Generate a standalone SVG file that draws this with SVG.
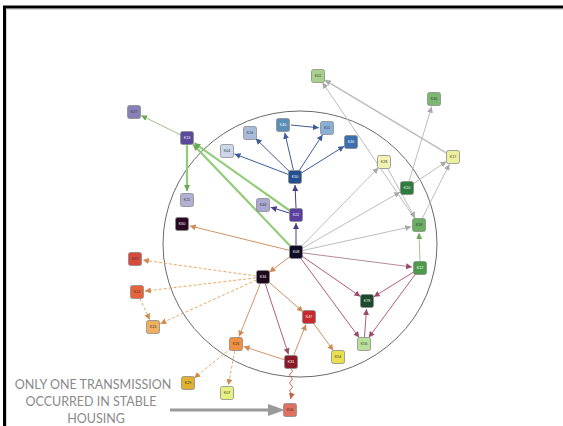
<svg xmlns="http://www.w3.org/2000/svg" width="563" height="426" viewBox="0 0 563 426">
<defs>
<style>
.n rect{stroke:#8a8a8a;stroke-width:0.8}
.n text{font-family:"Liberation Sans",Arial,sans-serif;font-size:3.6px;text-anchor:middle;fill:#333}
.n.d text{fill:#fff}
.e{fill:none;stroke-width:1}
.gy{stroke:#bdbdbd;marker-end:url(#mgy)}
.bl{stroke:#3c5c98;marker-end:url(#mbl)}
.gr{stroke:#92cc7a;stroke-width:2.2;marker-end:url(#mgr)}
.gt{stroke:#9fc48a;marker-end:url(#mgr)}
.pu{stroke:#4a3c8c;marker-end:url(#mpu)}
.or{stroke:#cf9366;marker-end:url(#mor)}
.ds{stroke:#eba866;stroke-dasharray:3 2;marker-end:url(#mor)}
.mv{stroke:#b25c7c;marker-end:url(#mmv)}
.rd{stroke:#d0704e;marker-end:url(#mrd)}
.lab{font-family:Lato,"Liberation Sans",sans-serif;font-size:12.5px;fill:#8a8a8a;text-anchor:middle}
</style>
<marker id="mgy" markerUnits="userSpaceOnUse" markerWidth="6" markerHeight="6" refX="6" refY="3" orient="auto"><path d="M0,0L6,3L0,6z" fill="#a8a8a8"/></marker>
<marker id="mbl" markerUnits="userSpaceOnUse" markerWidth="6" markerHeight="6" refX="6" refY="3" orient="auto"><path d="M0,0L6,3L0,6z" fill="#3c5c98"/></marker>
<marker id="mgr" markerUnits="userSpaceOnUse" markerWidth="6" markerHeight="6" refX="6" refY="3" orient="auto"><path d="M0,0L6,3L0,6z" fill="#6aa858"/></marker>
<marker id="mpu" markerUnits="userSpaceOnUse" markerWidth="6" markerHeight="6" refX="6" refY="3" orient="auto"><path d="M0,0L6,3L0,6z" fill="#4a3c8c"/></marker>
<marker id="mor" markerUnits="userSpaceOnUse" markerWidth="6" markerHeight="6" refX="6" refY="3" orient="auto"><path d="M0,0L6,3L0,6z" fill="#d08a50"/></marker>
<marker id="mmv" markerUnits="userSpaceOnUse" markerWidth="6" markerHeight="6" refX="6" refY="3" orient="auto"><path d="M0,0L6,3L0,6z" fill="#9a4a68"/></marker>
<marker id="mrd" markerUnits="userSpaceOnUse" markerWidth="6" markerHeight="6" refX="6" refY="3" orient="auto"><path d="M0,0L6,3L0,6z" fill="#c0604a"/></marker>
</defs>
<rect width="563" height="426" fill="#fff"/>
<path d="M6.5,426V9.5H563" fill="none" stroke="#d8d8d8" stroke-width="1"/>
<path d="M4.5,426V7H563" fill="none" stroke="#000" stroke-width="3"/>
<ellipse cx="300" cy="244" rx="137" ry="133" fill="none" stroke="#6a6a6a" stroke-width="1"/>

<g id="connectors">
<line class="e gt" x1="180.7" y1="134.9" x2="141.2" y2="115.5"/>
<line class="e gr" x1="187" y1="145" x2="187" y2="191"/>
<line class="e gr" x1="291.2" y1="246.9" x2="193.2" y2="144.5"/>
<line class="e gr" x1="290.3" y1="211" x2="194.4" y2="143.2"/>
<line class="e pu" x1="296" y1="208" x2="295" y2="185"/>
<line class="e pu" x1="296" y1="245" x2="296" y2="223"/>
<line class="e pu" x1="289.3" y1="213" x2="270.7" y2="207.3"/>
<line class="e bl" x1="288.5" y1="174.5" x2="234.5" y2="153.9"/>
<line class="e bl" x1="290" y1="172.1" x2="255.7" y2="138.6"/>
<line class="e bl" x1="293.4" y1="170.2" x2="284.8" y2="132.8"/>
<line class="e bl" x1="298.8" y1="171.1" x2="322.6" y2="134.7"/>
<line class="e bl" x1="300.9" y1="173.3" x2="344.2" y2="146.2"/>
<line class="e bl" x1="291" y1="125" x2="319" y2="127.8"/>
<line class="e or" x1="289.2" y1="250.3" x2="189.8" y2="225.9"/>
<line class="e or" x1="290.4" y1="256.2" x2="269.4" y2="272.2"/>
<line class="e ds" x1="256.1" y1="276" x2="142.9" y2="260.1"/>
<line class="e ds" x1="256" y1="277.8" x2="144.9" y2="291.1"/>
<line class="e ds" x1="256.6" y1="279.9" x2="160.3" y2="323.7"/>
<line class="e ds" x1="139.9" y1="298.4" x2="149.7" y2="319.7"/>
<line class="e or" x1="260.4" y1="283.5" x2="239" y2="336.6"/>
<line class="e mv" x1="265.2" y1="283.6" x2="288.5" y2="354.4"/>
<line class="e or" x1="268.3" y1="281.6" x2="303" y2="311.8"/>
<line class="e or" x1="284.4" y1="359.8" x2="243.6" y2="346.5"/>
<line class="e or" x1="293.6" y1="355.5" x2="306" y2="324.4"/>
<line class="e or" x1="313.1" y1="322.7" x2="333.3" y2="350.5"/>
<line class="e ds" x1="230.6" y1="348.4" x2="194.2" y2="378"/>
<line class="e ds" x1="234.7" y1="350.9" x2="228.4" y2="385.1"/>
<path class="e rd" d="M291,369 q3,2 0,4 q-3,2 0,4 q3,2 0,4 q-3,2 0,4 q3,2 0,4 q-3,2 0,4 q3,2 0,4 l-0.5,2"/>
<line class="e gy" x1="300.9" y1="247" x2="378.4" y2="167.7"/>
<line class="e gy" x1="302.1" y1="248.5" x2="400.1" y2="192"/>
<line class="e gy" x1="302.8" y1="250.5" x2="411.2" y2="226.7"/>
<line class="e mv" x1="302.9" y1="252.9" x2="412.1" y2="267" style="stroke:#b88a98"/>
<line class="e mv" x1="301.8" y1="256" x2="360.4" y2="296.5"/>
<line class="e mv" x1="300.2" y1="257.6" x2="359.2" y2="337.6"/>
<line class="e mv" x1="414.1" y1="271.7" x2="373.8" y2="296.8"/>
<line class="e mv" x1="415.8" y1="273.6" x2="368.7" y2="337.6"/>
<line class="e mv" x1="364.5" y1="337" x2="366.5" y2="309"/>
<line class="e gt" x1="420" y1="261" x2="419" y2="233"/>
<line class="e gy" x1="415.1" y1="219.2" x2="322.5" y2="82.6"/>
<line class="e gy" x1="447" y1="153.4" x2="324.9" y2="80.1" style="stroke-width:1.6"/>
<line class="e gy" x1="409" y1="181.3" x2="431.7" y2="106.7"/>
<line class="e gy" x1="412.8" y1="184.1" x2="446.4" y2="161.5"/>
<line class="e gy" x1="422.1" y1="218.7" x2="449.4" y2="164.2"/>
<line class="e gy" x1="387.4" y1="168.1" x2="415.1" y2="218"/>
</g>

<g id="K27" class="n"><rect x="127.5" y="105.5" width="13" height="13" rx="2" fill="#8880b8"/><text x="134" y="113.3">K27</text></g>
<g id="K13" class="n d"><rect x="180.5" y="131.5" width="13" height="13" rx="2" fill="#5a4a9e"/><text x="187" y="139.3">K13</text></g>
<g id="K21" class="n"><rect x="180.5" y="193.5" width="13" height="13" rx="2" fill="#b4b0d4"/><text x="187" y="201.3">K21</text></g>
<g id="K04" class="n"><rect x="220.5" y="144.5" width="13" height="13" rx="2" fill="#ccd8ea"/><text x="227" y="152.3">K04</text></g>
<g id="K16" class="n"><rect x="243.5" y="126.5" width="13" height="13" rx="2" fill="#a8bcd8"/><text x="250" y="134.3">K16</text></g>
<g id="K40" class="n d"><rect x="276.5" y="118.5" width="13" height="13" rx="2" fill="#5c8fb8"/><text x="283" y="126.3">K40</text></g>
<g id="K11" class="n"><rect x="320.5" y="121.5" width="13" height="13" rx="2" fill="#8ab0d8"/><text x="327" y="129.3">K11</text></g>
<g id="K46" class="n d"><rect x="344.5" y="135.5" width="13" height="13" rx="2" fill="#3c6fb0"/><text x="351" y="143.3">K46</text></g>
<g id="K50" class="n d"><rect x="288.5" y="170.5" width="13" height="13" rx="2" fill="#254f90"/><text x="295" y="178.3">K50</text></g>
<g id="K44" class="n"><rect x="256.5" y="198.5" width="13" height="13" rx="2" fill="#aaa8d2"/><text x="263" y="206.3">K44</text></g>
<g id="K22" class="n d"><rect x="289.5" y="208.5" width="13" height="13" rx="2" fill="#5a3fa0"/><text x="296" y="216.3">K22</text></g>
<g id="K08" class="n d"><rect x="289.5" y="245.5" width="13" height="13" rx="2" fill="#0d0d28"/><text x="296" y="253.3">K08</text></g>
<g id="K60" class="n d"><rect x="175.5" y="217.5" width="13" height="13" rx="2" fill="#2a0a22"/><text x="182" y="225.3">K60</text></g>
<g id="K34" class="n d"><rect x="256.5" y="270.5" width="13" height="13" rx="2" fill="#20081c"/><text x="263" y="278.3">K34</text></g>
<g id="K15" class="n"><rect x="128.5" y="252.5" width="13" height="13" rx="2" fill="#d84a3a"/><text x="135" y="260.3">K15</text></g>
<g id="K14" class="n"><rect x="130.5" y="285.5" width="13" height="13" rx="2" fill="#e8623a"/><text x="137" y="293.3">K14</text></g>
<g id="K24" class="n"><rect x="146.5" y="320.5" width="13" height="13" rx="2" fill="#f0b060"/><text x="153" y="328.3">K24</text></g>
<g id="K26" class="n"><rect x="229.5" y="337.5" width="13" height="13" rx="2" fill="#f09040"/><text x="236" y="345.3">K26</text></g>
<g id="K47" class="n d"><rect x="302.5" y="310.5" width="13" height="13" rx="2" fill="#c8282e"/><text x="309" y="318.3">K47</text></g>
<g id="K31" class="n d"><rect x="284.5" y="355.5" width="13" height="13" rx="2" fill="#8a1a2a"/><text x="291" y="363.3">K31</text></g>
<g id="K54" class="n"><rect x="331.5" y="350.5" width="13" height="13" rx="2" fill="#e8e050"/><text x="338" y="358.3">K54</text></g>
<g id="K29" class="n"><rect x="181.5" y="376.5" width="13" height="13" rx="2" fill="#e0b030"/><text x="188" y="384.3">K29</text></g>
<g id="K07" class="n"><rect x="220.5" y="386.5" width="13" height="13" rx="2" fill="#e8f080"/><text x="227" y="394.3">K07</text></g>
<g id="K06" class="n"><rect x="283.5" y="403.5" width="13" height="13" rx="2" fill="#e07060"/><text x="290" y="411.3">K06</text></g>
<g id="K01" class="n"><rect x="311.5" y="69.5" width="13" height="13" rx="2" fill="#a8d08d"/><text x="318" y="77.3">K01</text></g>
<g id="K30" class="n"><rect x="427.5" y="92.5" width="13" height="13" rx="2" fill="#7cb870"/><text x="434" y="100.3">K30</text></g>
<g id="K17" class="n"><rect x="446.5" y="150.5" width="13" height="13" rx="2" fill="#eef0a0"/><text x="453" y="158.3">K17</text></g>
<g id="K28" class="n"><rect x="377.5" y="155.5" width="13" height="13" rx="2" fill="#f2f2b4"/><text x="384" y="163.3">K28</text></g>
<g id="K10" class="n d"><rect x="400.5" y="181.5" width="13" height="13" rx="2" fill="#2e7d3e"/><text x="407" y="189.3">K10</text></g>
<g id="K18" class="n"><rect x="412.5" y="218.5" width="13" height="13" rx="2" fill="#6aaf60"/><text x="419" y="226.3">K18</text></g>
<g id="K12" class="n d"><rect x="413.5" y="261.5" width="13" height="13" rx="2" fill="#4a9a4a"/><text x="420" y="269.3">K12</text></g>
<g id="K78" class="n d"><rect x="360.5" y="294.5" width="13" height="13" rx="2" fill="#1d4a2e"/><text x="367" y="302.3">K78</text></g>
<g id="K56" class="n"><rect x="357.5" y="337.5" width="13" height="13" rx="2" fill="#b8e098"/><text x="364" y="345.3">K56</text></g>

<g id="note">
<text class="lab" x="93" y="389">ONLY ONE TRANSMISSION</text>
<text class="lab" x="91" y="406">OCCURRED IN STABLE</text>
<text class="lab" x="96" y="423">HOUSING</text>
<line x1="170" y1="410" x2="270" y2="410" stroke="#9a9a9a" stroke-width="3"/>
<path d="M268,404L285,410L268,416z" fill="#9a9a9a"/>
</g>
</svg>
